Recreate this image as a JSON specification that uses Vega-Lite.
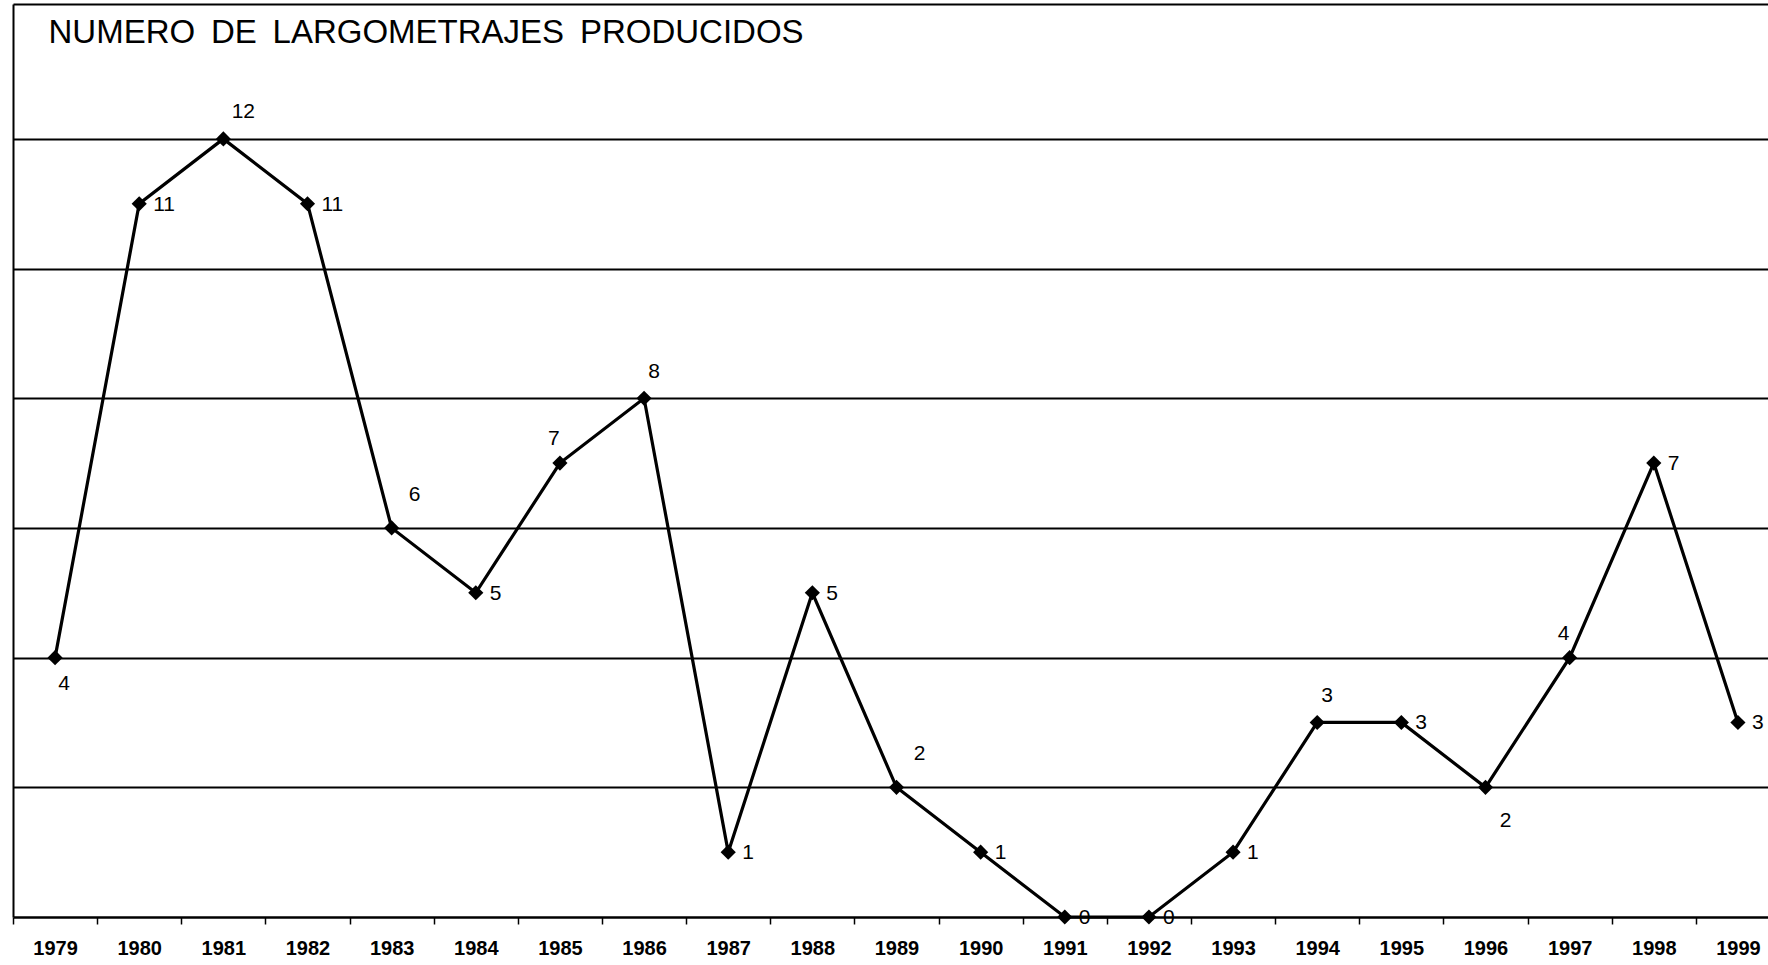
{
  "$schema": "https://vega.github.io/schema/vega-lite/v6.json",
  "width": 1755,
  "height": 913,
  "padding": {"left": 13, "top": 4, "right": 0, "bottom": 48},
  "autosize": {"type": "none"},
  "background": "white",
  "config": {
    "view": {"stroke": null},
    "font": "Liberation Sans"
  },
  "data": {
    "values": [
      {"year": "1979", "films": 4},
      {"year": "1980", "films": 11},
      {"year": "1981", "films": 12},
      {"year": "1982", "films": 11},
      {"year": "1983", "films": 6},
      {"year": "1984", "films": 5},
      {"year": "1985", "films": 7},
      {"year": "1986", "films": 8},
      {"year": "1987", "films": 1},
      {"year": "1988", "films": 5},
      {"year": "1989", "films": 2},
      {"year": "1990", "films": 1},
      {"year": "1991", "films": 0},
      {"year": "1992", "films": 0},
      {"year": "1993", "films": 1},
      {"year": "1994", "films": 3},
      {"year": "1995", "films": 3},
      {"year": "1996", "films": 2},
      {"year": "1997", "films": 4},
      {"year": "1998", "films": 7},
      {"year": "1999", "films": 3}
    ]
  },
  "encoding": {
    "x": {
      "field": "year",
      "type": "ordinal",
      "scale": {"type": "band", "paddingInner": 0, "paddingOuter": 0, "range": [0, 1767]},
      "axis": {
        "title": null,
        "labelAngle": 0,
        "labelFont": "Liberation Sans",
        "labelFontSize": 20,
        "labelFontWeight": "bold",
        "labelColor": "black",
        "labelPadding": 14,
        "tickBand": "extent",
        "tickSize": 7,
        "tickColor": "black",
        "tickWidth": 1.5,
        "domainColor": "black",
        "domainWidth": 2.5,
        "grid": false
      }
    },
    "y": {
      "field": "films",
      "type": "quantitative",
      "scale": {"domain": [0, 14.08], "nice": false, "zero": true},
      "axis": {
        "title": "NUMERO\u2009 DE\u2009 LARGOMETRAJES\u2009 PRODUCIDOS",
        "titleAngle": 0,
        "titleX": 35,
        "titleY": 28,
        "titleAlign": "left",
        "titleBaseline": "middle",
        "titleFont": "Liberation Sans",
        "titleFontSize": 33,
        "titleFontWeight": "normal",
        "titleColor": "black",
        "labels": false,
        "ticks": false,
        "domain": true,
        "domainColor": "black",
        "domainWidth": 2,
        "grid": true,
        "gridColor": "black",
        "gridWidth": 2,
        "gridOpacity": 1,
        "values": [2, 4, 6, 8, 10, 12, 14.08]
      }
    }
  },
  "layer": [
    {"mark": {"type": "line", "color": "black", "strokeWidth": 3.2}},
    {"mark": {"type": "point", "shape": "diamond", "filled": true, "size": 230, "color": "black", "opacity": 1}},
    {
      "transform": [{"filter": {"field": "year", "oneOf": ["1980", "1982", "1984", "1987", "1988", "1990", "1991", "1992", "1993", "1995", "1998", "1999"]}}],
      "mark": {"type": "text", "align": "left", "baseline": "middle", "dx": 14, "dy": 1, "fontSize": 21, "color": "black"},
      "encoding": {"text": {"field": "films", "type": "quantitative"}}
    },
    {
      "transform": [{"filter": {"field": "year", "oneOf": ["1981"]}}],
      "mark": {"type": "text", "align": "center", "baseline": "middle", "dx": 20, "dy": -27, "fontSize": 21, "color": "black"},
      "encoding": {"text": {"field": "films", "type": "quantitative"}}
    },
    {
      "transform": [{"filter": {"field": "year", "oneOf": ["1986", "1994"]}}],
      "mark": {"type": "text", "align": "center", "baseline": "middle", "dx": 10, "dy": -26, "fontSize": 21, "color": "black"},
      "encoding": {"text": {"field": "films", "type": "quantitative"}}
    },
    {
      "transform": [{"filter": {"field": "year", "oneOf": ["1985", "1997"]}}],
      "mark": {"type": "text", "align": "center", "baseline": "middle", "dx": -6, "dy": -24, "fontSize": 21, "color": "black"},
      "encoding": {"text": {"field": "films", "type": "quantitative"}}
    },
    {
      "transform": [{"filter": {"field": "year", "oneOf": ["1983", "1989"]}}],
      "mark": {"type": "text", "align": "center", "baseline": "middle", "dx": 23, "dy": -33, "fontSize": 21, "color": "black"},
      "encoding": {"text": {"field": "films", "type": "quantitative"}}
    },
    {
      "transform": [{"filter": {"field": "year", "oneOf": ["1979"]}}],
      "mark": {"type": "text", "align": "center", "baseline": "middle", "dx": 9, "dy": 26, "fontSize": 21, "color": "black"},
      "encoding": {"text": {"field": "films", "type": "quantitative"}}
    },
    {
      "transform": [{"filter": {"field": "year", "oneOf": ["1996"]}}],
      "mark": {"type": "text", "align": "center", "baseline": "middle", "dx": 20, "dy": 34, "fontSize": 21, "color": "black"},
      "encoding": {"text": {"field": "films", "type": "quantitative"}}
    }
  ]
}
